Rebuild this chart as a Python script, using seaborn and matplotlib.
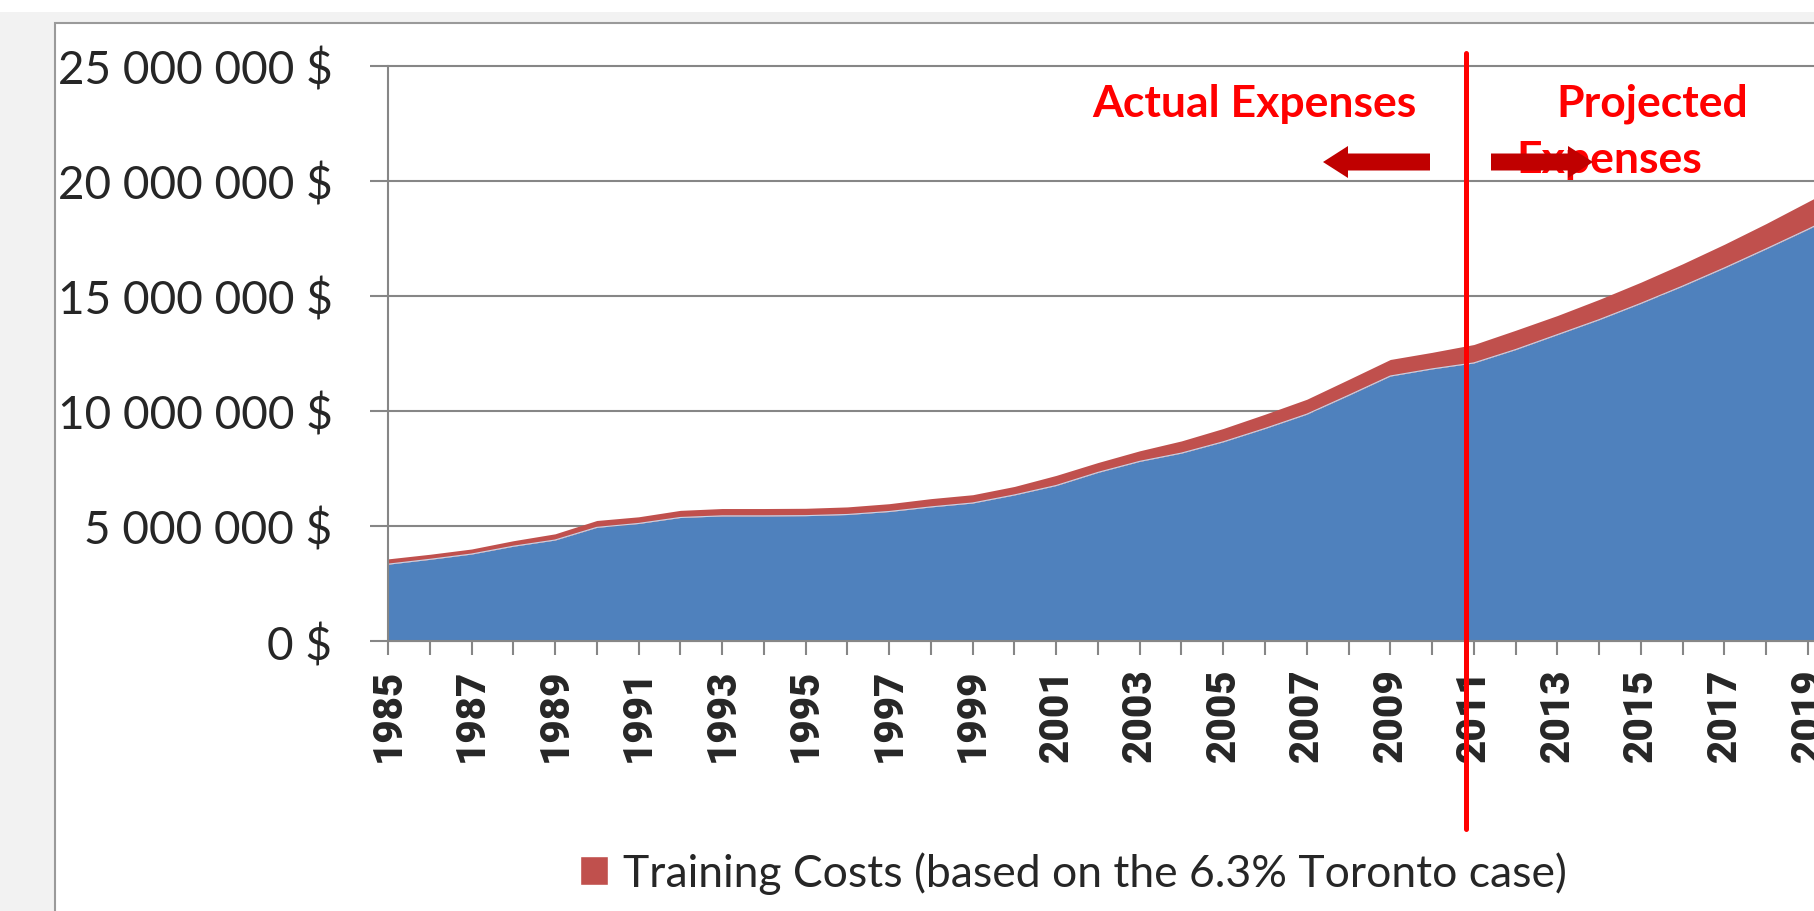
import numpy as np
import pandas as pd
import matplotlib
matplotlib.use("Agg")
import matplotlib.pyplot as plt
from matplotlib.patches import Rectangle, FancyArrow, Patch
import seaborn as sns

# Yearly costs in millions of $
years = list(range(1985, 2021))
base_costs = [3.34, 3.55, 3.78, 4.12, 4.39, 4.94, 5.11, 5.37, 5.44, 5.44,
              5.45, 5.50, 5.63, 5.83, 6.00, 6.35, 6.76, 7.33, 7.81, 8.17,
              8.66, 9.24, 9.86, 10.68, 11.52, 11.83, 12.09, 12.67, 13.32, 13.97,
              14.68, 15.43, 16.22, 17.05, 17.90, 18.80]
training_costs = [0.23, 0.22, 0.22, 0.24, 0.27, 0.30, 0.29, 0.31, 0.32, 0.32,
                  0.32, 0.33, 0.34, 0.36, 0.36, 0.37, 0.44, 0.43, 0.46, 0.53,
                  0.58, 0.62, 0.65, 0.69, 0.72, 0.72, 0.80, 0.84, 0.83, 0.88,
                  0.92, 0.97, 1.03, 1.10, 1.20, 1.25]
y_ticks = [0, 5_000_000, 10_000_000, 15_000_000, 20_000_000, 25_000_000]
split_year = 2010.81
legend_label = "Training Costs (based on the 6.3% Toronto case)"

BLUE = "#4f81bd"
RED = "#c0504d"
GRID = "#868686"

sns.set_style("white")
plt.rcParams["font.family"] = ["Lato", "DejaVu Sans"]

df = pd.DataFrame({"Year": years,
                   "Base": np.array(base_costs) * 1e6,
                   "Training": np.array(training_costs) * 1e6})

W, H = 1815, 912
fig = plt.figure(figsize=(W / 100, H / 100), dpi=100)
fig.patch.set_facecolor("white")

# grey surround and white chart area like the spreadsheet screenshot
fig.add_artist(Rectangle((0, 0), 1, 1 - 13 / H, transform=fig.transFigure,
                         facecolor="#f2f2f2", edgecolor="none", zorder=-3))
fig.add_artist(Rectangle((55 / W, -0.05), 1, 1.05 - 24 / H, transform=fig.transFigure,
                         facecolor="white", edgecolor="#9a9a9a", lw=1.5, zorder=-2))

ax = fig.add_axes([388 / W, 1 - 642 / H, 1 - 388 / W, 575 / H])
ax.set_facecolor("none")

ax.stackplot(df["Year"], df["Base"], df["Training"], colors=[BLUE, RED], linewidth=0)
sns.lineplot(data=df, x="Year", y="Base", color="#c3d4ea", lw=0.8, ax=ax)

ax.set_xlim(1985, 2019.17)
ax.set_ylim(0, 25_000_000)
ax.set_xlabel("")
ax.set_ylabel("")

ax.set_yticks(y_ticks)
ax.set_yticklabels([f"{v:,.0f} $".replace(",", " ") for v in y_ticks])
ax.yaxis.grid(True, color=GRID, lw=1.5)
for gl in ax.get_ygridlines():
    gl.set_clip_on(False)
ax.set_axisbelow(True)

ax.set_xticks(years[:-1])
ax.set_xticklabels([str(y) if (y - 1985) % 2 == 0 else "" for y in years[:-1]],
                   rotation=90, fontfamily="Roboto", fontweight="black", fontsize=29)

ax.tick_params(axis="y", length=13, width=1.5, color=GRID, pad=27, labelsize=33, left=True)
ax.tick_params(axis="x", length=10, width=1.5, color=GRID, pad=9, bottom=True)

for side in ["top", "right"]:
    ax.spines[side].set_visible(False)
for side in ["left", "bottom"]:
    ax.spines[side].set_color(GRID)
    ax.spines[side].set_linewidth(1.5)

# split between actual and projected
ax.axvline(split_year, ymin=-0.327, ymax=1.0226, color="#ff0000", lw=3.6,
           clip_on=False, zorder=5)

fig.text(1254 / W, 1 - 117 / H, "Actual Expenses", ha="center", va="baseline",
         fontsize=32, fontweight="bold", color="#ff0000")
fig.text(1652 / W, 1 - 117 / H, "Projected", ha="center", va="baseline",
         fontsize=32, fontweight="bold", color="#ff0000")
fig.text(1609 / W, 1 - 173 / H, "Expenses", ha="center", va="baseline",
         fontsize=32, fontweight="bold", color="#ff0000")

# arrows (in inches, 100 px per inch)
for tail, tip in [(1430, 1323), (1491, 1593)]:
    fig.add_artist(FancyArrow(tail / 100, (H - 163) / 100, (tip - tail) / 100, 0,
                              width=0.17, head_width=0.32, head_length=0.25,
                              length_includes_head=True, transform=fig.dpi_scale_trans,
                              facecolor="#c00000", edgecolor="none", zorder=6))

fig.legend(handles=[Patch(facecolor=RED)], labels=[legend_label],
           loc="center left", bbox_to_anchor=(580 / W, 1 - 874 / H),
           frameon=False, fontsize=32, handlelength=0.62, handleheight=0.62,
           handletextpad=0.35, borderpad=0, borderaxespad=0)

fig.savefig("out.png", dpi=100)
